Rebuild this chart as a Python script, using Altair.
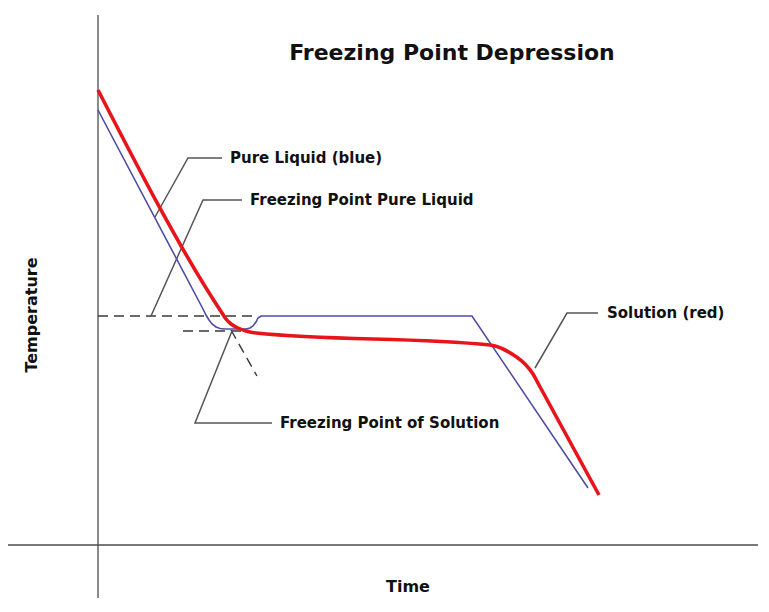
import altair as alt
import pandas as pd

# ---- data (time, temperature in arbitrary units) ----
blue_time = [0.0, 10.5, 10.8, 11.1, 11.4, 11.8, 12.2, 12.6, 14.8, 15.2, 15.5, 15.8, 16.0, 16.3, 37.4, 49.0]
blue_temp = [43.5, 23.6, 23.0, 22.5, 22.1, 21.8, 21.65, 21.6, 21.6, 21.7, 21.9, 22.3, 22.7, 22.9, 22.9, 5.7]

red_time = [0.0, 12.4, 12.8, 13.3, 14.0, 14.8, 15.8, 39.2, 40.5, 41.7, 42.7, 43.5, 44.1, 50.1]
red_temp = [45.5, 23.2, 22.6, 22.1, 21.7, 21.4, 21.2, 20.0, 19.6, 18.9, 18.1, 17.1, 16.0, 5.0]

# dashed construction lines
dash_seg = ["fp_pure", "fp_pure", "fp_sol", "fp_sol", "extrap", "extrap"]
dash_time = [0.0, 16.0, 8.5, 14.9, 13.3, 15.9]
dash_temp = [22.9, 22.9, 21.4, 21.4, 21.5, 16.9]

# annotation leader lines
lead_seg = ["a", "a", "a", "b", "b", "b", "c", "c", "c", "d", "d", "d"]
lead_time = [12.4, 9.0, 5.7, 14.4, 10.5, 5.3, 17.4, 9.7, 13.4, 50.0, 46.9, 43.7]
lead_temp = [38.7, 38.7, 32.8, 34.5, 34.5, 22.9, 12.2, 12.2, 21.4, 23.2, 23.2, 17.7]

label_text = ["Pure Liquid (blue)", "Freezing Point Pure Liquid",
              "Freezing Point of Solution", "Solution (red)"]
label_time = [13.2, 15.2, 18.2, 50.9]
label_temp = [38.7, 34.5, 12.2, 23.2]

title_text = "Freezing Point Depression"
xlabel_text = "Time"
ylabel_text = "Temperature"

# ---- frames ----
blue_df = pd.DataFrame({"t": blue_time, "T": blue_temp, "o": range(len(blue_time))})
red_df = pd.DataFrame({"t": red_time, "T": red_temp, "o": range(len(red_time))})
dash_df = pd.DataFrame({"t": dash_time, "T": dash_temp, "seg": dash_seg, "o": range(len(dash_time))})
lead_df = pd.DataFrame({"t": lead_time, "T": lead_temp, "seg": lead_seg, "o": range(len(lead_time))})
label_df = pd.DataFrame({"t": label_time, "T": label_temp, "txt": label_text})

XD = [-9.0, 66.0]
YD = [-5.3, 53.7]
xs = alt.Scale(domain=XD, nice=False, zero=False)
ys = alt.Scale(domain=YD, nice=False, zero=False)


def X(f="t"):
    return alt.X(f, type="quantitative", scale=xs, axis=None)


def Y(f="T"):
    return alt.Y(f, type="quantitative", scale=ys, axis=None)


base_font = "DejaVu Sans"
ink = "#4d4d4d"

vaxis = alt.Chart(pd.DataFrame({"t": [0.0], "T1": [53.0], "T2": [YD[0]]})).mark_rule(
    color=ink, strokeWidth=1.3).encode(x=X("t"), y=Y("T1"), y2="T2")
haxis = alt.Chart(pd.DataFrame({"T": [0.0], "t1": [XD[0]], "t2": [XD[1]]})).mark_rule(
    color=ink, strokeWidth=1.3).encode(y=Y("T"), x=X("t1"), x2="t2")

dashes = alt.Chart(dash_df).mark_line(color="#3a3a3a", strokeWidth=1.4, strokeDash=[10, 6]).encode(
    x=X(), y=Y(), detail="seg:N", order="o:Q")

leaders = alt.Chart(lead_df).mark_line(color="#555555", strokeWidth=1.5).encode(
    x=X(), y=Y(), detail="seg:N", order="o:Q")

blue = alt.Chart(blue_df).mark_line(color="#4d4da6", strokeWidth=1.6, interpolate="linear").encode(
    x=X(), y=Y(), order="o:Q")

red = alt.Chart(red_df).mark_line(color="#e8141c", strokeWidth=3.6, interpolate="monotone").encode(
    x=X(), y=Y(), order="o:Q")

labels = alt.Chart(label_df).mark_text(
    align="left", baseline="middle", font=base_font, fontWeight="bold", fontSize=15, color="#111111"
).encode(x=X(), y=Y(), text="txt:N")

title = alt.Chart(pd.DataFrame({"t": [35.4], "T": [49.2], "txt": [title_text]})).mark_text(
    align="center", baseline="middle", font=base_font, fontWeight="bold", fontSize=22, color="#111111"
).encode(x=X(), y=Y(), text="txt:N")

xlab = alt.Chart(pd.DataFrame({"t": [31.0], "T": [-4.2], "txt": [xlabel_text]})).mark_text(
    align="center", baseline="middle", font=base_font, fontWeight="bold", fontSize=16, color="#111111"
).encode(x=X(), y=Y(), text="txt:N")

ylab = alt.Chart(pd.DataFrame({"t": [-6.6], "T": [23.0], "txt": [ylabel_text]})).mark_text(
    align="center", baseline="middle", font=base_font, fontWeight="bold", fontSize=16, angle=270,
    color="#111111"
).encode(x=X(), y=Y(), text="txt:N")

chart = alt.layer(vaxis, haxis, dashes, leaders, blue, red, labels, title, xlab, ylab).properties(
    width=750, height=590, padding=0, autosize=alt.AutoSizeParams(type="none"), background="white"
).configure_view(stroke=None)

chart.save("out.html", embed_options={"renderer": "svg", "actions": False})
